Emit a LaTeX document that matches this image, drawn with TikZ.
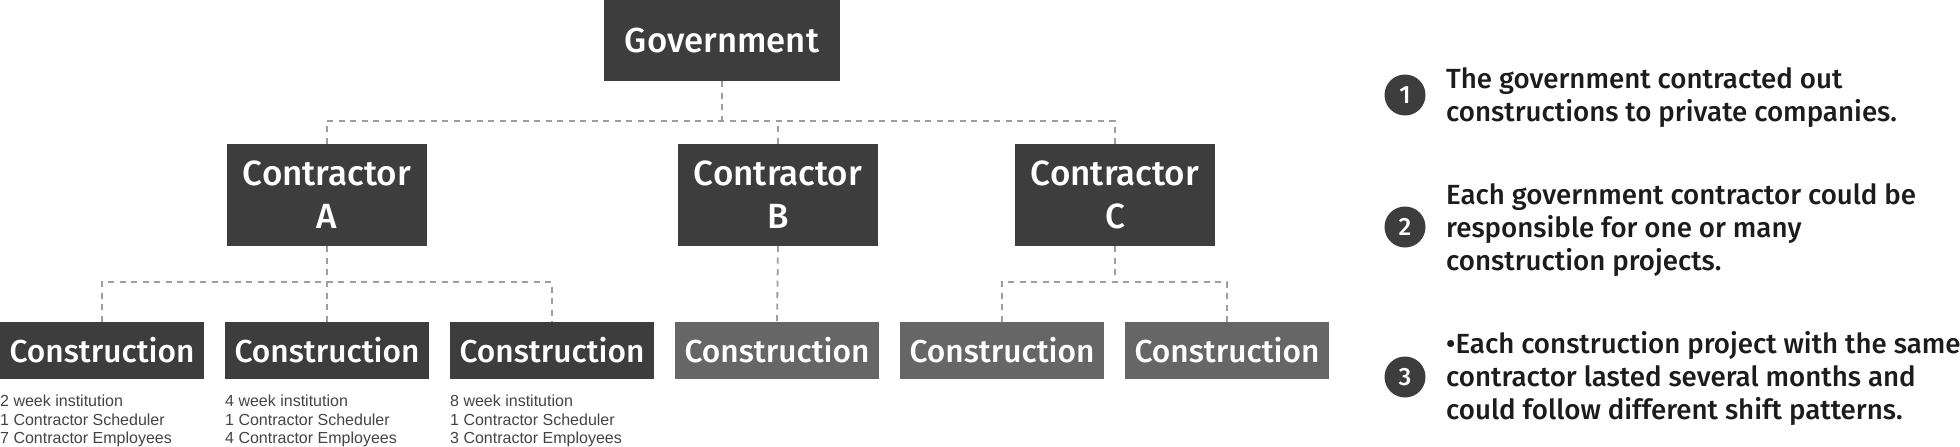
\documentclass[tikz,border=0pt]{standalone}
\usepackage{fontspec}
\setmainfont{Liberation Sans}
\IfFontExistsTF{Fira Sans Medium}
  {\newfontfamily\medfont{Fira Sans Medium}}
  {\newfontfamily\medfont[Scale=1.06]{Liberation Sans}}
\definecolor{darkbox}{HTML}{3D3D3D}
\definecolor{lightbox}{HTML}{666666}
\definecolor{dashcol}{HTML}{9E9E9E}
\definecolor{notecol}{HTML}{444444}
\definecolor{desccol}{HTML}{1C1C1C}
\begin{document}
\begin{tikzpicture}[x=1pt,y=-1pt,
  box/.style={fill=darkbox, text=white, inner sep=0pt, align=center},
  gov/.style={box, minimum width=236pt, minimum height=81pt, font=\medfont\fontsize{34.7}{42}\selectfont},
  ctr/.style={box, minimum width=200pt, minimum height=102pt, font=\medfont\fontsize{35}{43}\selectfont},
  cons/.style={box, minimum width=204pt, minimum height=57pt, font=\medfont\fontsize{31.7}{38}\selectfont},
  consl/.style={cons, fill=lightbox},
  link/.style={draw=dashcol, line width=1.8pt, dash pattern=on 6pt off 5.5pt},
  note/.style={text=notecol, inner sep=0pt, align=left, anchor=north west, font=\fontsize{16}{18.5}\selectfont},
  num/.style={circle, fill=darkbox, text=white, minimum size=41pt, inner sep=0pt, font=\medfont\fontsize{25}{25}\selectfont},
  desc/.style={anchor=west, inner sep=0pt, align=left, text=desccol, font=\medfont\fontsize{27.7}{33}\selectfont}]
\useasboundingbox (0,0) rectangle (1960,447);
\fill[white] (0,0) rectangle (1960,447);

% boxes
\node[gov] (gov) at (722,40.5) {Government};
\node[ctr] (ca) at (327,195) {Contractor\\A};
\node[ctr] (cb) at (778,195) {Contractor\\B};
\node[ctr] (cc) at (1115,195) {Contractor\\C};
\node[cons]  (a1) at (102,350.5) {Construction};
\node[cons]  (a2) at (327,350.5) {Construction};
\node[cons]  (a3) at (552,350.5) {Construction};
\node[consl] (b1) at (777,350.5) {Construction};
\node[consl] (c1) at (1002,350.5) {Construction};
\node[consl] (c2) at (1227,350.5) {Construction};

% notes
\node[note] (n1) at (0,395) {2 week institution\\1 Contractor Scheduler\\7 Contractor Employees};
\node[note] (n2) at (225,395) {4 week institution\\1 Contractor Scheduler\\4 Contractor Employees};
\node[note] (n3) at (450,395) {8 week institution\\1 Contractor Scheduler\\3 Contractor Employees};

% connectors
\coordinate (topbus) at (0,121);
\coordinate (abus) at (0,282);
\draw[link] (gov.south) -- (gov.south |- topbus);
\draw[link] (ca.north) -- (ca.north |- topbus) -- (cc.north |- topbus) -- (cc.north);
\draw[link] (cb.north) -- (cb.north |- topbus);
\draw[link] (ca.south) -- (ca.south |- abus);
\draw[link] (a1.north) -- (a1.north |- abus) -- (a3.north |- abus) -- (a3.north);
\draw[link] (a2.north) -- (a2.north |- abus);
\draw[link] (cb.south) -- (b1.north);
\draw[link] (cc.south) -- (cc.south |- abus);
\draw[link] (c1.north) -- (c1.north |- abus) -- (c2.north |- abus) -- (c2.north);

% legend
\node[num] (k1) at (1405,95) {1};
\node[num] (k2) at (1405,227) {2};
\node[num] (k3) at (1405,377) {3};
\node[desc] (d1) at (1446,98) {The government contracted out\\constructions to private companies.};
\node[desc] (d2) at (1446,230) {Each government contractor could be\\responsible for one or many\\construction projects.};
\node[desc] (d3) at (1446,378) {\textbullet Each construction project with the same\\contractor lasted several months and\\could follow different shift patterns.};
\end{tikzpicture}
\end{document}
